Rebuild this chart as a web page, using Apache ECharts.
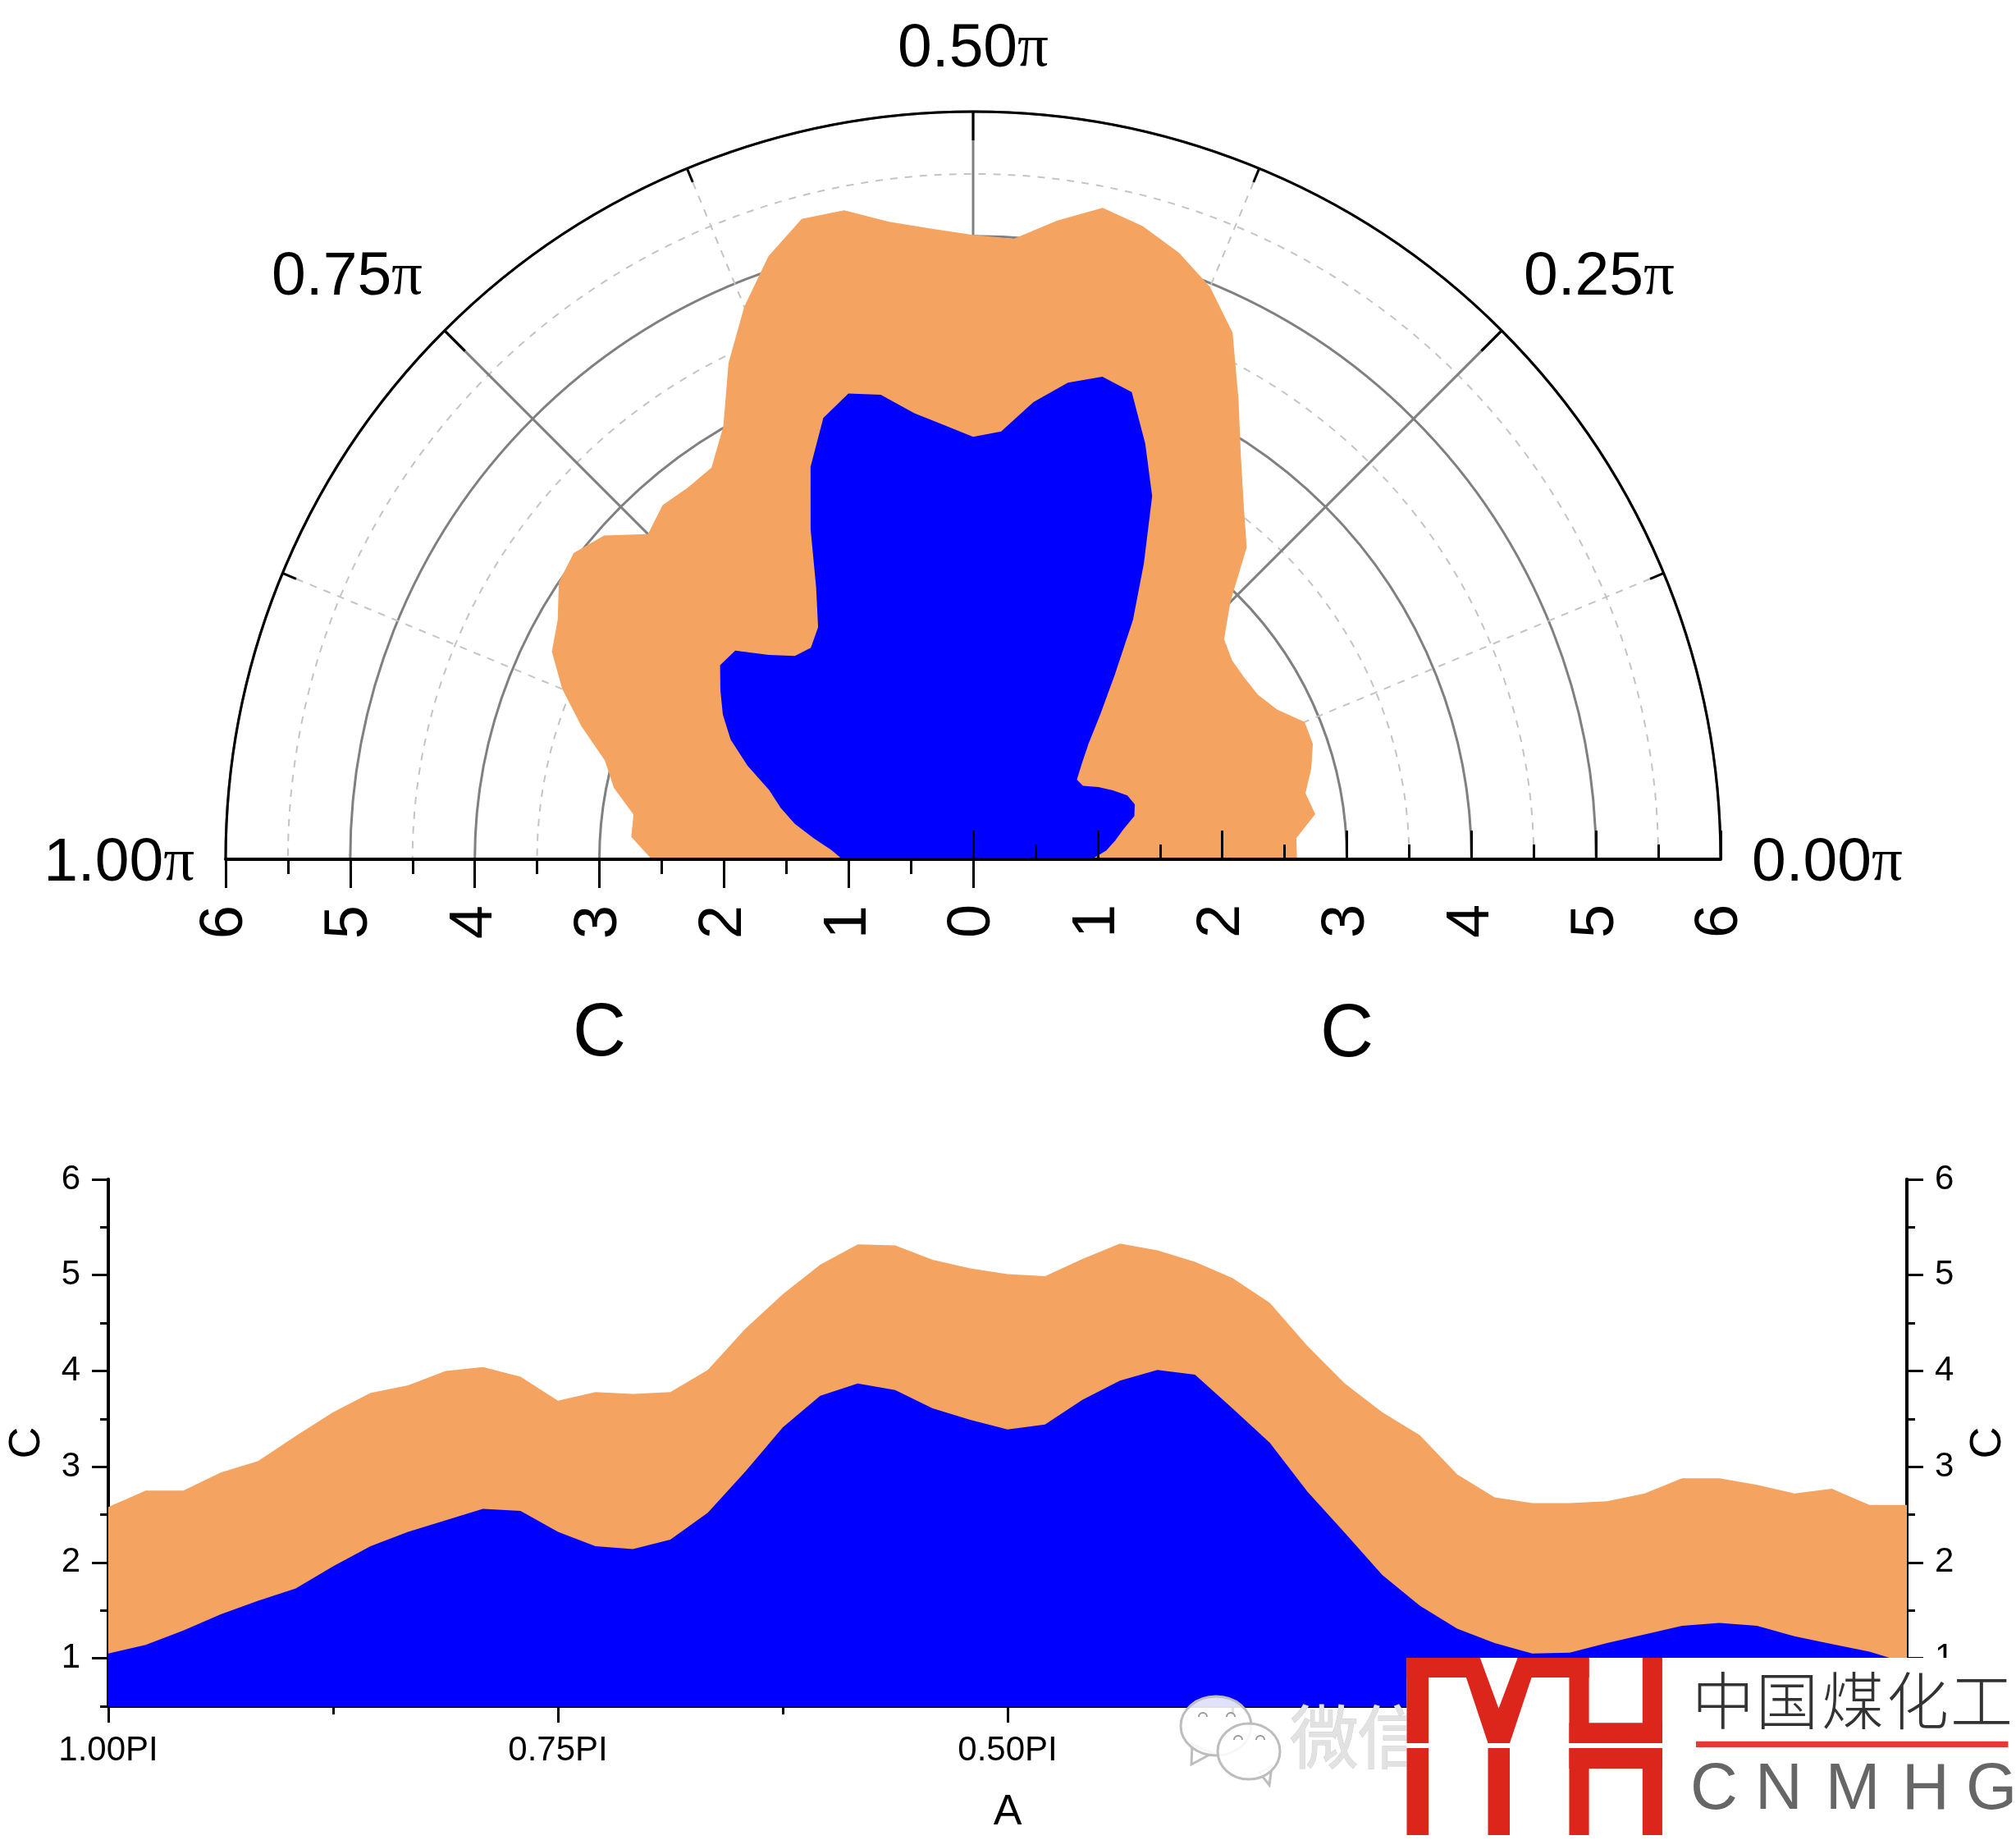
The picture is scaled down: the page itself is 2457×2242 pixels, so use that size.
<!DOCTYPE html>
<html><head><meta charset="utf-8">
<style>html,body{margin:0;padding:0;background:#fff}#c{width:2457px;height:2242px}</style>
<script src="https://cdn.jsdelivr.net/npm/echarts@6/dist/echarts.min.js"></script>
</head><body><div id="c"></div>
<script>
const thetaValues = [1,.9792,.9583,.9375,.9167,.8958,.875,.8542,.8333,.8125,.7917,.7708,.75,.7292,.7083,.6875,.6667,.6458,.625,.6042,.5833,.5625,.5417,.5208,.5,.4792,.4583,.4375,.4167,.3958,.375,.3542,.3333,.3125,.2917,.2708,.25,.2292,.2083,.1875,.1667,.1458,.125,.1042,.0833,.0625,.0417,.0208,0];
const outerValues = [2.58,2.75,2.75,2.94,3.06,3.32,3.57,3.77,3.85,4.0,4.04,3.94,3.69,3.78,3.76,3.78,4.01,4.44,4.80,5.11,5.32,5.31,5.16,5.07,5.01,4.99,5.17,5.33,5.26,5.14,4.97,4.71,4.26,3.87,3.57,3.33,2.92,2.68,2.62,2.62,2.64,2.72,2.88,2.88,2.81,2.72,2.77,2.60,2.60];
const innerValues = [1.05,1.14,1.29,1.46,1.60,1.73,1.96,2.17,2.32,2.44,2.56,2.54,2.32,2.17,2.14,2.24,2.52,2.95,3.41,3.74,3.87,3.80,3.61,3.49,3.39,3.44,3.70,3.90,4.01,3.96,3.61,3.25,2.74,2.31,1.87,1.55,1.31,1.16,1.05,1.06,1.16,1.25,1.34,1.37,1.34,1.23,1.15,1.07,0.95];
const polarAngleLabels = {0:'0.00',0.25:'0.25',0.5:'0.50',0.75:'0.75',1:'1.00'};
const lineAngleLabels = {0:'0.00PI',0.25:'0.25PI',0.5:'0.50PI',0.75:'0.75PI',1:'1.00PI'};
const radiusTicks = [0,1,2,3,4,5,6];
const yMajorTicks = [1,2,3,4,5,6];
const logoCn = ['中','国','煤','化','工'];
const logoEn = ['C','N','M','H','G'];
const wechatText = ['微','信'];

const ORANGE='#F4A460', BLUE='#0000FF', SANS='"Liberation Sans", Arial, sans-serif';
const CX=1186, CY=1047, R=911;
const polarOuter = thetaValues.map((t,i)=>[outerValues[i],t]);
const polarInner = thetaValues.map((t,i)=>[innerValues[i],t]);
const lineOuter = thetaValues.map((t,i)=>[t,outerValues[i]]);
const lineInner = thetaValues.map((t,i)=>[t,innerValues[i]]);

function radiusAxis(idx, isRightSide, labels){
  return {polarIndex:idx,type:'value',min:0,max:6,interval:1,z:5,
    name:'C',nameLocation:'middle',nameGap:isRightSide?170:-259,nameRotate:0,
    nameTextStyle:{fontSize:90,fontFamily:SANS,color:'#000'},
    axisLine:{show:true,lineStyle:{color:'#000',width:4}},
    axisTick:{show:true,inside:isRightSide,length:35,lineStyle:{color:'#000',width:3}},
    minorTick:{show:true,splitNumber:2,length:18,lineStyle:{color:'#000',width:3}},
    axisLabel:{show:true,margin:isRightSide?-96:56,rotate:90,fontSize:74,fontFamily:SANS,color:'#000',
      customValues:labels,hideOverlap:false,showMinLabel:true,showMaxLabel:true},
    splitLine:{show:false},minorSplitLine:{show:false}
  };
}
function gridRadius(idx, interval, style){
  return {polarIndex:idx,type:'value',min:0,max:6,interval,z:0,
    axisLine:{show:false},axisTick:{show:false},axisLabel:{show:false},
    splitLine:{show:true,lineStyle:style},minorSplitLine:{show:false}};
}
function gridAngle(idx, withLines){
  return {polarIndex:idx,type:'value',min:0,max:1,interval:0.25,startAngle:0,endAngle:180,clockwise:false,z:0,
    axisLine:{show:false},axisTick:{show:false},axisLabel:{show:false},
    minorTick:{show:false,splitNumber:2},
    splitLine:{show:withLines,lineStyle:{color:'#808080',width:3}},
    minorSplitLine:{show:withLines,lineStyle:{color:'#c4c4c4',width:2,type:[9,9]}}};
}
function yAxes(position){
  const nameBase={name:'C',nameLocation:'middle',nameGap:72,nameRotate:90,
    nameTextStyle:{fontSize:54,fontFamily:SANS,color:'#000'}};
  return [
    {type:'value',gridIndex:0,position,min:0.5,max:6,interval:0.5,
      axisLine:{show:true,onZero:false,lineStyle:{color:'#000',width:4}},
      axisTick:{show:true,length:10,lineStyle:{color:'#000',width:3}},
      axisLabel:{show:false},splitLine:{show:false}},
    Object.assign({type:'value',gridIndex:0,position,min:0.5,max:6,interval:0.5,
      axisLine:{show:true,onZero:false,lineStyle:{color:'#000',width:4}},
      axisTick:{show:true,length:20,customValues:yMajorTicks,lineStyle:{color:'#000',width:3}},
      axisLabel:{show:true,customValues:yMajorTicks,margin:34,fontSize:42,fontFamily:SANS,color:'#000'},
      splitLine:{show:false}},nameBase)
  ];
}

const lx=v=>1700+v/2.071, ly=v=>1980+v/3;
const red='#DC261C';
const lrect=(a,b,c,d,f)=>({type:'rect',z:101,shape:{x:lx(a),y:ly(b),width:(c-a)/2.071,height:(d-b)/3},style:{fill:f||red}});
const lpoly=(pts)=>({type:'polygon',z:101,shape:{points:pts.map(p=>[lx(p[0]),ly(p[1])])},style:{fill:red}});
const logo=[
  {type:'rect',z:100,shape:{x:1714.5,y:2020,width:743,height:222},style:{fill:'#fff'}},
  lrect(30,120,85,432),lrect(30,450,85,768),
  lrect(30,120,215,192),lrect(310,120,490,192),
  lpoly([[180,192],[215,120],[262,305],[310,120],[345,192],[290,432],[235,432]]),
  lrect(235,450,290,768),
  lrect(440,120,490,432),lrect(440,450,490,768),
  lrect(625,120,675,432),lrect(625,450,675,768),
  lrect(440,358,675,432),lrect(440,450,675,525),
  lrect(760,425,1548,447,'#E53935')
];
const cnX=[2100,2178,2258,2337,2415], enX=[2089,2168,2258,2347,2427];
logoCn.forEach((c,i)=>logo.push({type:'text',z:101,style:{text:c,x:cnX[i],y:2072,align:'center',verticalAlign:'middle',fontSize:76,fontFamily:'"Noto Sans CJK SC"',fontWeight:300,fill:'#333'}}));
logoEn.forEach((c,i)=>logo.push({type:'text',z:101,style:{text:c,x:enX[i],y:2182,align:'center',verticalAlign:'middle',fontSize:80,fontFamily:SANS,fill:'#666'}}));
const bubble=(cx,cy,rx,ry,tail)=>[
  {type:'polygon',z:98,shape:{points:tail},style:{fill:'#fff',stroke:'#bdbdbd',lineWidth:3}},
  {type:'ellipse',z:98,shape:{cx,cy,rx,ry},style:{fill:'rgba(255,255,255,0.88)',stroke:'#bdbdbd',lineWidth:3}}
];
const eye=(x,y)=>({type:'arc',z:99,shape:{cx:x,cy:y,r:5,startAngle:Math.PI,endAngle:0,clockwise:true},style:{fill:'none',stroke:'#999',lineWidth:2}});
const wechat=[
  ...bubble(1482,2103,43,36,[[1453,2125],[1452,2150],[1478,2136]]),
  ...bubble(1522,2134,38,34,[[1535,2160],[1547,2175],[1550,2152]]),
  eye(1466,2092),eye(1500,2092),eye(1509,2120),eye(1536,2120)
];
const wcX=[1614,1696];
wechatText.forEach((c,i)=>wechat.push({type:'text',z:99,style:{text:c,x:wcX[i],y:2116,align:'center',verticalAlign:'middle',fontSize:84,fontFamily:'"Noto Sans CJK SC"',fill:'#e2e2e2',stroke:'#cfcfcf',lineWidth:1}}));

const polarBox={center:[CX,CY],radius:[0,R]};
const labelRich={
  n:{fontSize:75,fontFamily:SANS,color:'#000'},p:{fontSize:75,fontFamily:'"Liberation Serif"',color:'#000'},
  nb:{fontSize:75,fontFamily:SANS,color:'#000',padding:[10,0,0,0]},pb:{fontSize:75,fontFamily:'"Liberation Serif"',color:'#000',padding:[10,0,0,0]}
};
const option={
  animation:false,backgroundColor:'#fff',
  polar:[polarBox,polarBox,polarBox,polarBox],
  angleAxis:[
    {polarIndex:0,type:'value',min:0,max:1,interval:0.25,startAngle:0,endAngle:180,clockwise:false,z:5,
      axisLine:{show:true,lineStyle:{color:'#000',width:3}},
      axisTick:{show:true,inside:true,length:35,lineStyle:{color:'#000',width:3}},
      minorTick:{show:true,splitNumber:2,length:18,lineStyle:{color:'#000',width:3}},
      axisLabel:{show:true,margin:38,formatter:v=>{const e=(v===0||v===1);return '{'+(e?'nb':'n')+'|'+polarAngleLabels[v]+'}{'+(e?'pb':'p')+'|π}';},rich:labelRich},
      splitLine:{show:false},minorSplitLine:{show:false}},
    {polarIndex:1,type:'value',min:0,max:1,interval:0.25,startAngle:180,endAngle:0,clockwise:true,
      axisLine:{show:false},axisTick:{show:false},axisLabel:{show:false},splitLine:{show:false}},
    gridAngle(2,false),
    gridAngle(3,true)
  ],
  radiusAxis:[
    radiusAxis(0,true,radiusTicks),
    radiusAxis(1,false,radiusTicks.slice(1)),
    gridRadius(2,0.5,{color:'#c4c4c4',width:2,type:[9,9]}),
    gridRadius(3,1,{color:'#808080',width:3})
  ],
  grid:{left:132,top:1437,width:2192,height:642,containLabel:false,outerBoundsMode:'none'},
  xAxis:{type:'value',gridIndex:0,inverse:true,min:0,max:1,interval:0.25,position:'bottom',
    name:'A',nameLocation:'middle',nameGap:104,nameTextStyle:{fontSize:52,fontFamily:SANS,color:'#000'},
    axisLine:{show:true,onZero:false,lineStyle:{color:'#000',width:4}},
    axisTick:{show:true,length:20,lineStyle:{color:'#000',width:3}},
    minorTick:{show:true,splitNumber:2,length:10,lineStyle:{color:'#000',width:3}},
    axisLabel:{show:true,margin:33,fontSize:42,fontFamily:SANS,color:'#000',formatter:v=>lineAngleLabels[v]},
    splitLine:{show:false}},
  yAxis:[...yAxes('left'),...yAxes('right')],
  series:[
    {name:'C outer',type:'line',coordinateSystem:'polar',polarIndex:0,data:polarOuter,showSymbol:false,lineStyle:{width:0},areaStyle:{color:ORANGE,opacity:1},z:2},
    {name:'C inner',type:'line',coordinateSystem:'polar',polarIndex:0,data:polarInner,showSymbol:false,lineStyle:{width:0},areaStyle:{color:BLUE,opacity:1},z:3},
    {name:'C outer',type:'line',xAxisIndex:0,yAxisIndex:0,data:lineOuter,showSymbol:false,lineStyle:{width:0},areaStyle:{color:ORANGE,opacity:1,origin:'start'},z:2},
    {name:'C inner',type:'line',xAxisIndex:0,yAxisIndex:0,data:lineInner,showSymbol:false,lineStyle:{width:0},areaStyle:{color:BLUE,opacity:1,origin:'start'},z:3}
  ],
  graphic:{elements:[...wechat,...logo]}
};
const chart=echarts.init(document.getElementById('c'),null,{renderer:'canvas'});
chart.setOption(option);
</script></body></html>
